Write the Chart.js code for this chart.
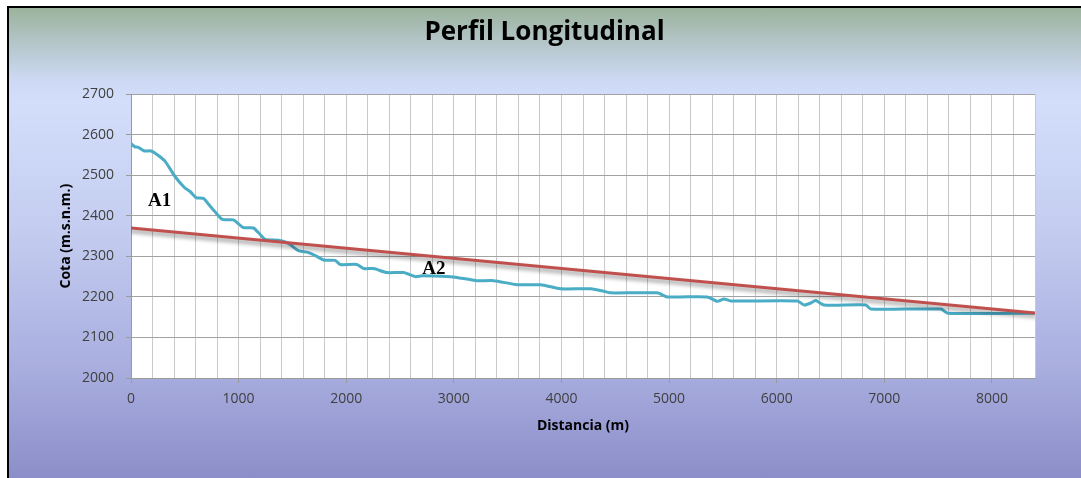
<!DOCTYPE html>
<html lang="es">
<head>
<meta charset="utf-8">
<title>Perfil Longitudinal</title>
<script src="https://cdn.jsdelivr.net/npm/chart.js@4.4.1/dist/chart.umd.min.js"></script>
<style>
  html, body { margin: 0; padding: 0; background: #fff; overflow: hidden; }
  body { width: 1081px; height: 478px; position: relative; }
  .marco {
    position: absolute; left: 7px; top: 6px; width: 1090px; height: 490px;
    border-left: 2px solid #000; border-top: 2px solid #000;
    background: linear-gradient(180deg, #9bb39c 0%, #b4c5c8 7%, #cedaf5 15%, #d3defa 19%, #c4cdf0 45%, #a7acde 75%, #8688c4 100%);
  }
  #wrap { position: absolute; left: 0; top: 0; width: 1081px; height: 478px; }
</style>
</head>
<body>
<div class="marco"></div>
<div id="wrap"><canvas id="chart" width="1081" height="478"></canvas></div>
<script>
// ====== DATOS ======
// perfil del terreno (distancia en m, cota en m.s.n.m.)
const distancias = [0, 37, 68, 124, 186, 254, 316, 409, 496, 549, 604, 673, 719, 781, 849, 951,
  1045, 1138, 1200, 1246, 1370, 1463, 1556, 1643, 1727, 1789, 1897, 1944, 2099, 2161, 2254,
  2378, 2533, 2642, 2704, 2967, 3030, 3216, 3371, 3588, 3805, 3991, 4177, 4270, 4394, 4456,
  4890, 4983, 5107, 5355, 5448, 5510, 5572, 6193, 6255, 6317, 6363, 6440, 6828, 6874, 7526,
  7588, 8400];
const cotas = [2578, 2570, 2569, 2560, 2560, 2549, 2535, 2497, 2470, 2460, 2445, 2443, 2429, 2410, 2391, 2390,
  2371, 2370, 2354, 2342, 2340, 2332, 2314, 2310, 2300, 2291, 2290, 2280, 2280, 2270, 2270,
  2260, 2260, 2250, 2252, 2250, 2248, 2240, 2240, 2230, 2230, 2220, 2220, 2220, 2214, 2210,
  2210, 2200, 2200, 2200, 2189, 2195, 2190, 2190, 2180, 2185, 2191, 2180, 2180, 2170, 2170,
  2160, 2160];

// linea de pendiente media
const rectaDist = [0, 8400];
const rectaCota = [2370, 2160];

// etiquetas de zonas
const zonaTextos = ["A1", "A2"];
const zonaDist = [267, 2814];
const zonaCota = [2425, 2256];

// ejes
const ejeX = [0, 8400];
const ejeY = [2000, 2700];
const pasoX = 200;
const etiquetaCadaX = 1000;
const pasoY = 100;

const toXY = (xs, ys) => xs.map((x, i) => ({ x, y: ys[i] }));

// ====== PLUGINS ======
const fondoPlot = {
  id: "fondoPlot",
  beforeDraw(chart) {
    const { ctx, chartArea: a } = chart;
    ctx.save();
    ctx.fillStyle = "#ffffff";
    ctx.fillRect(a.left, a.top, a.right - a.left, a.bottom - a.top);
    ctx.restore();
  },
};

const sombraRecta = {
  id: "sombraRecta",
  beforeDatasetDraw(chart, args) {
    if (args.index !== 0) return;
    const ctx = chart.ctx;
    ctx.save();
    ctx.shadowColor = "rgba(0,0,0,0.45)";
    ctx.shadowBlur = 4;
    ctx.shadowOffsetY = 3;
  },
  afterDatasetDraw(chart, args) {
    if (args.index !== 0) return;
    chart.ctx.restore();
  },
};

const etiquetasZona = {
  id: "etiquetasZona",
  afterDatasetsDraw(chart) {
    const { ctx, scales } = chart;
    ctx.save();
    ctx.font = "bold 19px 'Liberation Serif', serif";
    ctx.fillStyle = "#000";
    ctx.textAlign = "center";
    ctx.textBaseline = "alphabetic";
    zonaTextos.forEach((t, i) => {
      ctx.fillText(t, scales.x.getPixelForValue(zonaDist[i]), scales.y.getPixelForValue(zonaCota[i]));
    });
    ctx.restore();
  },
};

// ====== CHART ======
const tickFont = { family: "'Open Sans', sans-serif", size: 14 };
const tituloEje = { family: "'Open Sans', sans-serif", size: 14, weight: "bold" };

new Chart(document.getElementById("chart"), {
  type: "line",
  data: {
    datasets: [
      {
        label: "Pendiente",
        data: toXY(rectaDist, rectaCota),
        borderColor: "#c0504d",
        borderWidth: 3,
        pointRadius: 0,
        borderCapStyle: "round",
      },
      {
        label: "Perfil",
        data: toXY(distancias, cotas),
        borderColor: "#4bacc6",
        borderWidth: 3,
        pointRadius: 0,
        tension: 0.2,
        borderJoinStyle: "round",
        borderCapStyle: "round",
      },
    ],
  },
  options: {
    responsive: false,
    animation: false,
    layout: { padding: { top: 0, right: 46, bottom: 0, left: 54 } },
    plugins: {
      legend: { display: false },
      tooltip: { enabled: false },
      title: {
        display: true,
        text: "Perfil Longitudinal",
        color: "#000",
        font: { family: "'Open Sans', sans-serif", size: 26, weight: "bold" },
        padding: { top: 17, bottom: 46 },
      },
    },
    scales: {
      x: {
        type: "linear",
        min: ejeX[0],
        max: ejeX[1],
        afterFit: (s) => { s.height = 100; },
        ticks: {
          stepSize: pasoX,
          autoSkip: false,
          maxRotation: 0,
          color: "#404040",
          font: tickFont,
          padding: 8,
          callback: (v) => (v % etiquetaCadaX === 0 ? String(v) : ""),
        },
        grid: {
          color: "#c9c9c9",
          lineWidth: 1,
          tickLength: 5,
          tickColor: (c) => (c.tick && c.tick.value % etiquetaCadaX === 0 ? "#9a9a9a" : "rgba(0,0,0,0)"),
        },
        border: { color: "#9a9a9a" },
        title: {
          display: true,
          text: "Distancia (m)",
          color: "#000",
          font: tituloEje,
          padding: { top: 0, bottom: 44 },
        },
      },
      y: {
        min: ejeY[0],
        max: ejeY[1],
        afterFit: (s) => { s.width = 77; },
        ticks: {
          stepSize: pasoY,
          color: "#404040",
          font: tickFont,
          padding: 12,
          callback: (v) => String(v),
        },
        grid: { color: "#a3a3a3", lineWidth: 1, tickLength: 5, tickColor: "#9a9a9a" },
        border: { color: "#9a9a9a" },
        title: {
          display: true,
          text: "Cota (m.s.n.m.)",
          color: "#000",
          font: tituloEje,
          padding: { top: 4, bottom: 0 },
        },
      },
    },
  },
  plugins: [fondoPlot, sombraRecta, etiquetasZona],
});
</script>
</body>
</html>
